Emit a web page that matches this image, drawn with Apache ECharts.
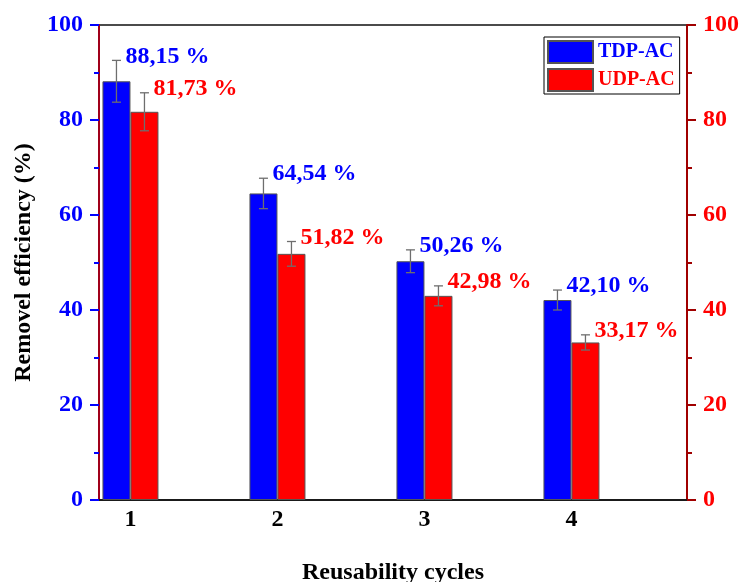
<!DOCTYPE html>
<html>
<head>
<meta charset="utf-8">
<script src="https://cdn.jsdelivr.net/npm/echarts@6/dist/echarts.min.js"></script>
<style>
  html, body { margin: 0; padding: 0; background: #fff; }
  #chart { width: 741px; height: 582px; }
</style>
</head>
<body>
<div id="chart"></div>
<script>
// Removal efficiency over reuse cycles for the two adsorbents
const cycles = [1, 2, 3, 4];
const tdpValues = [88.15, 64.54, 50.26, 42.10];
const udpValues = [81.73, 51.82, 42.98, 33.17];
const tdpErrors = [4.4, 3.2, 2.4, 2.1];
const udpErrors = [4.0, 2.6, 2.1, 1.6];
const seriesNames = ['TDP-AC', 'UDP-AC'];
const yMin = 0, yMax = 100, yStep = 20;

const FONT = '"Liberation Serif", "Times New Roman", serif';
const BLUE = '#0000ff';
const RED = '#ff0000';
const AXIS_RED = '#a0001a';
const BAR_W = 28;

const fmt = v => v.toFixed(2).replace('.', ',') + ' %';

function pairs(values, errs) {
  return cycles.map((c, i) => errs ? [c, values[i], errs[i]] : [c, values[i]]);
}

function barSeries(name, values, color) {
  return {
    name, type: 'bar', data: pairs(values),
    barWidth: BAR_W, barGap: '0%',
    itemStyle: { color, borderColor: '#555', borderWidth: 1 },
    z: 2
  };
}

// Error whiskers plus the value text beside each whisker top
function errorSeries(name, values, errs, offset, color) {
  return {
    name, type: 'custom', data: pairs(values, errs), z: 4,
    renderItem(params, api) {
      const cx = api.value(0), v = api.value(1), e = api.value(2);
      const x = api.coord([cx, v])[0] + offset;
      const top = api.coord([cx, v + e])[1];
      const bot = api.coord([cx, v - e])[1];
      const cap = 4.5;
      const ls = { stroke: '#6e6e6e', lineWidth: 1.3 };
      return {
        type: 'group',
        children: [
          { type: 'line', shape: { x1: x, y1: top, x2: x, y2: bot }, style: ls },
          { type: 'line', shape: { x1: x - cap, y1: top, x2: x + cap, y2: top }, style: ls },
          { type: 'line', shape: { x1: x - cap, y1: bot, x2: x + cap, y2: bot }, style: ls },
          {
            type: 'text', x: x + 9, y: top - 4,
            style: {
              text: fmt(v), fill: color,
              fontFamily: FONT, fontWeight: 'bold', fontSize: 24,
              align: 'left', verticalAlign: 'middle'
            }
          }
        ]
      };
    }
  };
}

function yAxisDef(position, labelColor, tickColor) {
  return {
    type: 'value', position, min: yMin, max: yMax, interval: yStep,
    axisLine: { show: true, lineStyle: { color: AXIS_RED, width: 2 } },
    axisTick: { show: true, inside: false, length: 9, lineStyle: { color: tickColor, width: 2 } },
    minorTick: { show: true, splitNumber: 2, length: 5, lineStyle: { color: tickColor, width: 2 } },
    axisLabel: { color: labelColor, fontFamily: FONT, fontWeight: 'bold', fontSize: 24, margin: 16 },
    splitLine: { show: false }
  };
}

const chart = echarts.init(document.getElementById('chart'));
const leftAxis = yAxisDef('left', BLUE, BLUE);
leftAxis.name = 'Removel efficiency (%)';
leftAxis.nameLocation = 'middle';
leftAxis.nameGap = 60;
leftAxis.nameTextStyle = { color: '#000', fontFamily: FONT, fontWeight: 'bold', fontSize: 24 };
const rightAxis = yAxisDef('right', RED, '#a00000');
rightAxis.axisLine.lineStyle.color = '#a00000';

chart.setOption({
  animation: false,
  backgroundColor: '#fff',
  grid: {
    left: 99, right: 54, top: 25, bottom: 82, outerBoundsMode: 'none', containLabel: false,
    show: true, borderColor: '#111', borderWidth: 1.5
  },
  legend: {
    orient: 'vertical', left: 544, top: 37,
    padding: [3, 5, 2, 3], itemGap: 4, itemWidth: 45, itemHeight: 22,
    icon: 'rect', borderColor: '#000', borderWidth: 1, backgroundColor: '#fff',
    textStyle: { fontFamily: FONT, fontWeight: 'bold', fontSize: 20, lineHeight: 22 },
    data: [
      { name: seriesNames[0], textStyle: { color: BLUE } },
      { name: seriesNames[1], textStyle: { color: RED } }
    ]
  },
  xAxis: {
    type: 'value', min: 0.786, max: 4.786,
    axisLine: { show: true, onZero: false, lineStyle: { color: '#1a1a1a', width: 2 } },
    axisTick: { show: false },
    axisLabel: {
      customValues: cycles, color: '#000', fontFamily: FONT, fontWeight: 'bold', fontSize: 24, margin: 8
    },
    splitLine: { show: false },
    name: 'Reusability cycles', nameLocation: 'middle', nameGap: 61,
    nameTextStyle: { color: '#000', fontFamily: FONT, fontWeight: 'bold', fontSize: 24 }
  },
  yAxis: [leftAxis, rightAxis],
  series: [
    barSeries(seriesNames[0], tdpValues, BLUE),
    barSeries(seriesNames[1], udpValues, RED),
    errorSeries(seriesNames[0] + ' error', tdpValues, tdpErrors, -BAR_W / 2, BLUE),
    errorSeries(seriesNames[1] + ' error', udpValues, udpErrors, BAR_W / 2, RED)
  ]
});
</script>
</body>
</html>
